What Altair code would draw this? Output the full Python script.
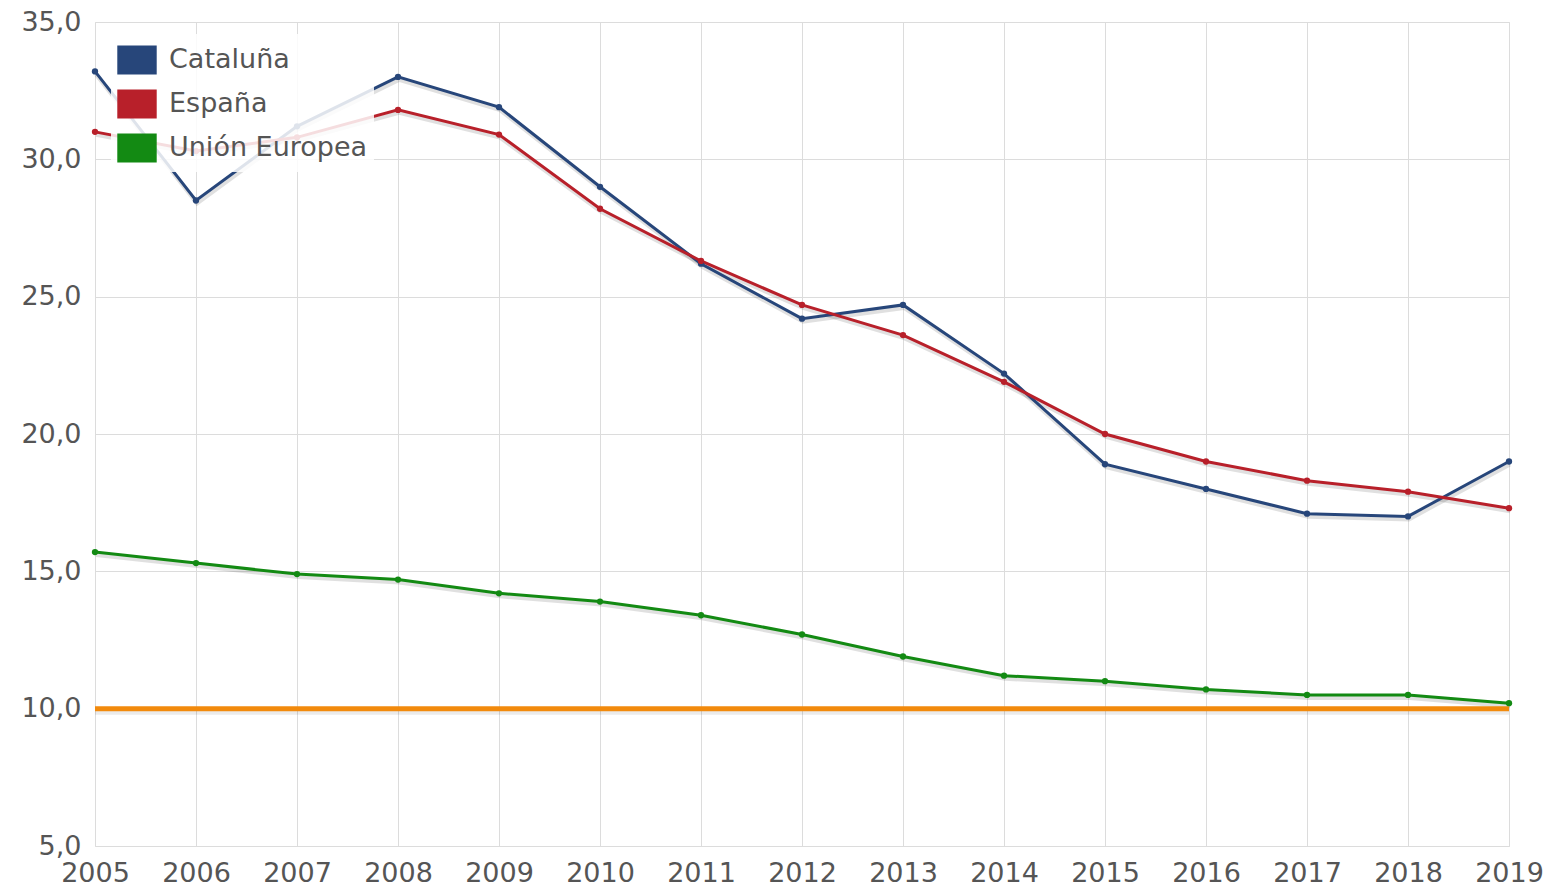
import altair as alt
import pandas as pd

years = list(range(2005, 2020))
cataluna = [33.2, 28.5, 31.2, 33.0, 31.9, 29.0, 26.2, 24.2, 24.7, 22.2, 18.9, 18.0, 17.1, 17.0, 19.0]
espana = [31.0, 30.3, 30.8, 31.8, 30.9, 28.2, 26.3, 24.7, 23.6, 21.9, 20.0, 19.0, 18.3, 17.9, 17.3]
ue = [15.7, 15.3, 14.9, 14.7, 14.2, 13.9, 13.4, 12.7, 11.9, 11.2, 11.0, 10.7, 10.5, 10.5, 10.2]
series_names = ["Cataluña", "España", "Unión Europea"]
series_colors = ["#27467a", "#b8202a", "#138a13"]
objetivo = 10.0
y_ticks = [5, 10, 15, 20, 25, 30, 35]

rows = []
for name, vals in zip(series_names, [cataluna, espana, ue]):
    for yr, v in zip(years, vals):
        rows.append({"Año": yr, "Valor": v, "Serie": name})
df = pd.DataFrame(rows)
target_df = pd.DataFrame({"Año": [years[0]], "Año2": [years[-1]], "Valor": [objetivo]})

FONT = "DejaVu Sans"
TXT = "#555555"

x = alt.X("Año:Q", scale=alt.Scale(domain=[2005, 2019], nice=False, zero=False),
          axis=alt.Axis(values=years, format="d", title=None, grid=True, gridColor="#dcdcdc",
                        domain=False, ticks=False, labelFont=FONT, labelFontSize=27,
                        labelColor=TXT, labelPadding=14, labelFlush=False, labelOverlap=False))
y = alt.Y("Valor:Q", scale=alt.Scale(domain=[5, 35], nice=False, zero=False),
          axis=alt.Axis(values=y_ticks, title=None, grid=True, gridColor="#dcdcdc",
                        domain=False, ticks=False, labelFont=FONT, labelFontSize=27,
                        labelColor=TXT, labelPadding=14, labelFlush=False,
                        labelExpr="replace(format(datum.value, '.1f'), '.', ',')"))

color = alt.Color("Serie:N", scale=alt.Scale(domain=series_names, range=series_colors),
                  legend=alt.Legend(title=None, orient="none", legendX=16, legendY=12,
                                    labelFont=FONT, labelFontSize=27, labelColor=TXT,
                                    labelLimit=0,
                                    symbolType="M-1,-0.72H1V0.72H-1Z", symbolSize=1400,
                                    symbolStrokeColor="#d8d8d8", symbolStrokeWidth=2,
                                    symbolOpacity=1, rowPadding=6, labelOffset=12,
                                    fillColor="rgba(255,255,255,0.85)", padding=6))

target_shadow = alt.Chart(target_df).mark_rule(strokeWidth=6, color="#000", opacity=0.08, yOffset=3).encode(
    x=alt.X("Año:Q"), x2="Año2:Q", y=alt.Y("Valor:Q"))
target = alt.Chart(target_df).mark_rule(strokeWidth=5, color="#f28a0c").encode(
    x=alt.X("Año:Q"), x2="Año2:Q", y=alt.Y("Valor:Q"))

shadow = alt.Chart(df).mark_line(strokeWidth=4, color="#000", opacity=0.12, xOffset=1, yOffset=3).encode(
    x=x, y=y, detail="Serie:N")
lines = alt.Chart(df).mark_line(strokeWidth=3).encode(x=x, y=y, color=color)
points = alt.Chart(df).mark_circle(size=40, opacity=1).encode(x=x, y=y, color=alt.Color("Serie:N", legend=None, scale=alt.Scale(domain=series_names, range=series_colors)))

chart = alt.layer(target_shadow, shadow, target, lines, points).properties(
    width=1414, height=824,
    autosize=alt.AutoSizeParams(type="none"),
    padding={"left": 87, "top": 14, "right": 40, "bottom": 44},
).configure_view(stroke="#dcdcdc", strokeWidth=1).configure(background="white")

chart.save("out.html", embed_options={"renderer": "svg", "actions": False})
